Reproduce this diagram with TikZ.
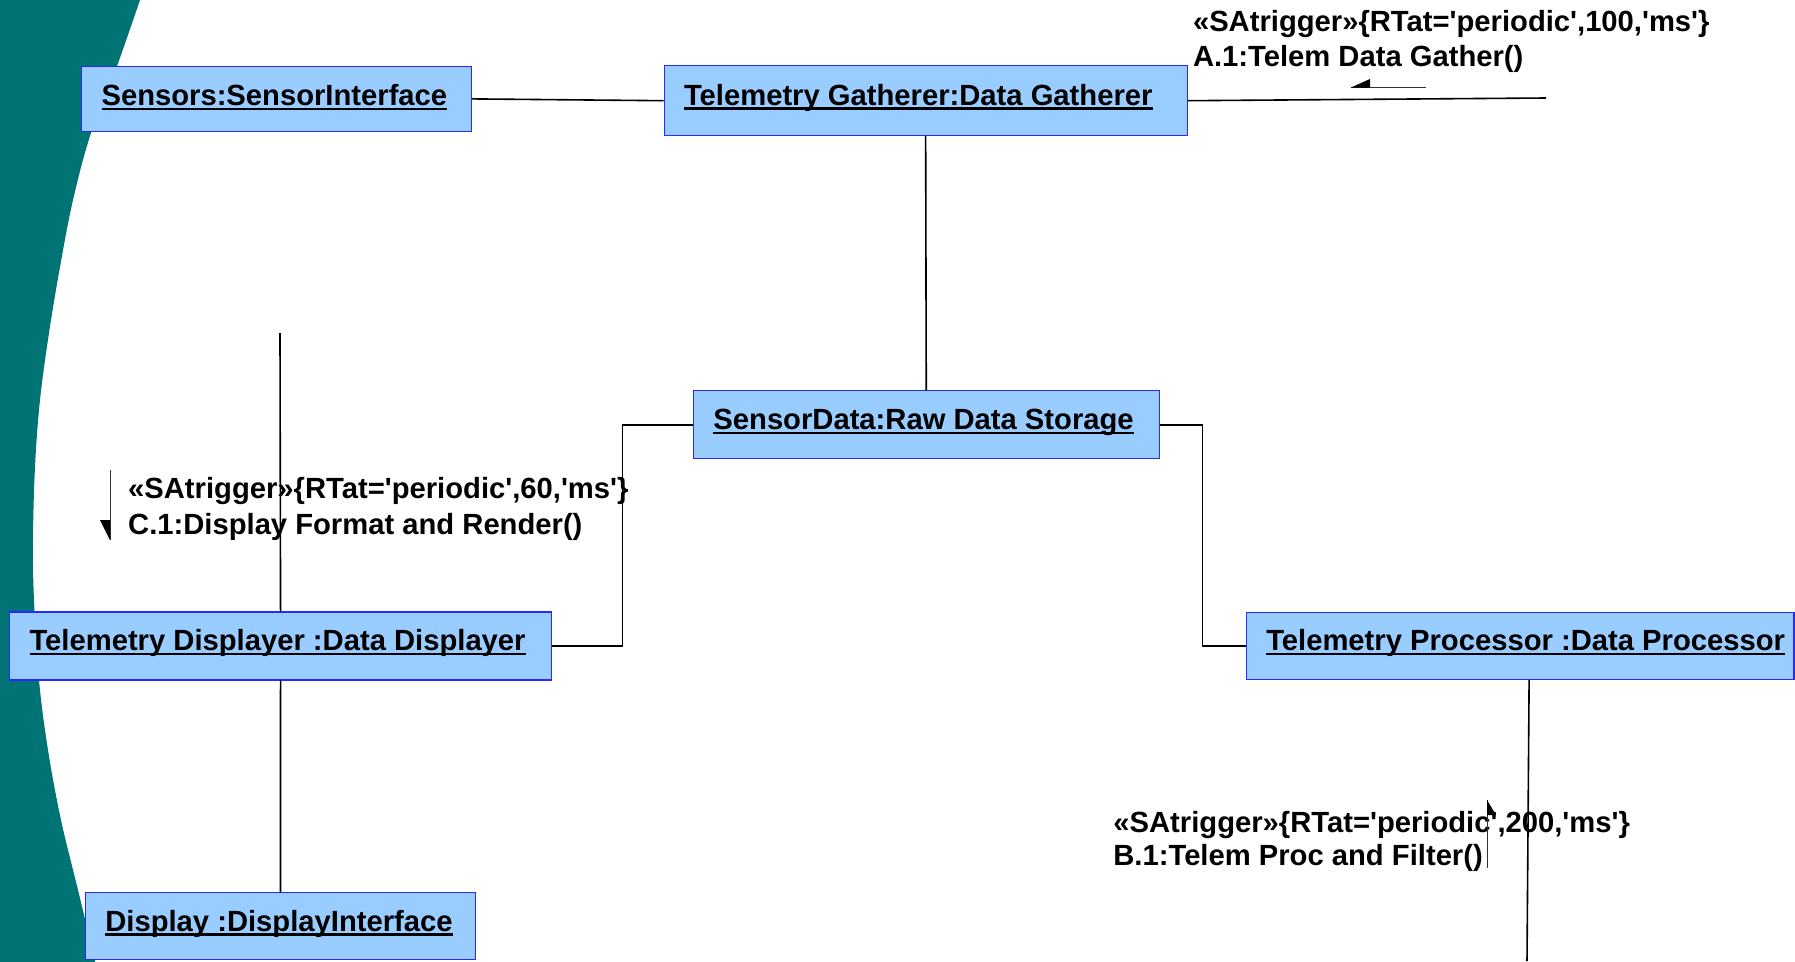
\documentclass[tikz,border=0pt]{standalone}
\usepackage{fontspec}
\newfontfamily\lab{Liberation Sans}
\usetikzlibrary{calc}

\definecolor{bgteal}{RGB}{0,115,117}
\definecolor{objfill}{RGB}{153,204,255}
\definecolor{objline}{RGB}{40,40,255}

% thick underline for object names
\newsavebox\ulbox
\newcommand\ulined[1]{\sbox\ulbox{#1}\rlap{\rule[-4.5pt]{\wd\ulbox}{2.7pt}}\usebox\ulbox}
% object label: fixed box width, text indented from the left edge
\newcommand\objlabel[2]{\makebox[#1][l]{\hspace{20pt}\ulined{#2}}}

\tikzset{
  obj/.style={draw=objline, fill=objfill, line width=1.1pt, inner sep=0pt,
    anchor=north west, font=\lab\fontsize{29.2pt}{34pt}\selectfont\bfseries},
  msg/.style={anchor=base west, inner sep=0pt,
    font=\lab\fontsize{29.2pt}{34pt}\selectfont\bfseries},
  link/.style={line width=1.6pt, black},
  trig/.style={line width=1pt, black!80},
  trighead/.style={fill=black},
}

\begin{document}
\begin{tikzpicture}[x=1pt,y=-1pt]
  \clip (0,0) rectangle (1795,961);
  \fill[white] (0,0) rectangle (1795,961);

  % curved band on the left
  \fill[bgteal] plot[smooth, tension=0.6] coordinates {(141,-3) (117,66) (91,133) (73,200)
    (60,267) (49,333) (40,400) (35,467) (33,540) (34,600) (39,680) (48,750)
    (61,820) (78,890) (96,965)} -- (0,965) -- (0,-3) -- cycle;

  % objects
  \node[obj, text height=39.6pt, text depth=25.7pt] (sen) at (81,65.7)
    {\objlabel{390pt}{Sensors:SensorInterface}};
  \node[obj, text height=39.7pt, text depth=30pt] (gath) at (663.5,65.3)
    {\objlabel{523.2pt}{Telemetry Gatherer:Data Gatherer}};
  \node[obj, text height=39pt, text depth=29pt] (raw) at (692.9,390.3)
    {\objlabel{465.6pt}{SensorData:Raw Data Storage}};
  \node[obj, text height=39pt, text depth=29pt] (dsp) at (9,611.4)
    {\objlabel{542pt}{Telemetry Displayer :Data Displayer}};
  \node[obj, text height=38.5pt, text depth=28.7pt] (proc) at (1245.7,611.8)
    {\objlabel{547.7pt}{Telemetry Processor :Data Processor}};
  \node[obj, text height=38.6pt, text depth=28.2pt] (dis) at (84.8,892)
    {\objlabel{390.2pt}{Display :DisplayInterface}};

  % free ends of links
  \coordinate (gEnd) at (1546,98);
  \coordinate (sTop) at (280,333);
  \coordinate (pEnd) at (1527,961);

  % links
  \draw[link] (sen.east) -- (gath.west);
  \draw[link] (gath.east) -- (gEnd);
  \draw[link] (gath.south) -- (raw.north);
  \draw[link] (raw.west) -| ($(raw.west)!.5!(dsp.east)$) |- (dsp.east);
  \draw[link] (raw.east) -| ($(raw.east)!.5!(proc.west)$) |- (proc.west);
  \draw[link] (sTop) -- (dsp.north);
  \draw[link] (dsp.south) -- (dis.north);
  \draw[link] ([xshift=9pt]proc.south) -- (pEnd);

  % trigger messages
  \node[msg] (aOne) at (1192.8,31.7) {«SAtrigger»\{RTat='periodic',100,'ms'\}};
  \node[msg] (aTwo) at (1192.8,66) {A.1:Telem Data Gather()};
  \node[msg] (cOne) at (128,498.4) {«SAtrigger»\{RTat='periodic',60,'ms'\}};
  \node[msg] (cTwo) at (128,534.2) {C.1:Display Format and Render()};
  \node[msg] (bOne) at (1113.2,832.6) {«SAtrigger»\{RTat='periodic',200,'ms'\}};
  \node[msg] (bTwo) at (1113.2,865) {B.1:Telem Proc and Filter()};

  % direction arrows of the messages
  \coordinate (aFrom) at (1426,87.5);
  \coordinate (aTip) at (1351,87.5);
  \draw[trig] (aFrom) -- (aTip);
  \fill[trighead] (aTip) -- ++(19,-8.5) -- ++(0,9) -- cycle;

  \coordinate (cFrom) at (110,470);
  \coordinate (cTip) at (110,540);
  \draw[trig] (cFrom) -- (cTip);
  \fill[trighead] (cTip) -- ++(-10,-20) -- ++(10,0) -- cycle;

  \coordinate (bFrom) at (1487,868);
  \coordinate (bTip) at (1487,800);
  \draw[trig] (bFrom) -- (bTip);
  \fill[trighead] (bTip) -- ++(9,15) -- ++(-9,0) -- cycle;
\end{tikzpicture}
\end{document}
